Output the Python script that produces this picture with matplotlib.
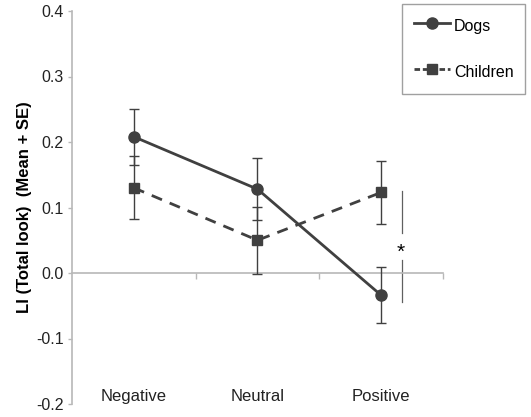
import matplotlib
matplotlib.use("Agg")
import matplotlib.pyplot as plt
from matplotlib.lines import Line2D

categories = ["Negative", "Neutral", "Positive"]
dogs = [0.208, 0.128, -0.034]
dogs_se = [0.043, 0.047, 0.043]
children = [0.130, 0.050, 0.123]
children_se = [0.048, 0.051, 0.048]
yticks = [-0.2, -0.1, 0.0, 0.1, 0.2, 0.3, 0.4]

plt.rcParams['font.family'] = ['Liberation Sans', 'DejaVu Sans']
fig = plt.figure(figsize=(5.31, 4.17), dpi=100)
ax = fig.add_axes([72/531, 1-404/417, (443-72)/531, (404-11)/417])

x = list(range(len(categories)))
dark = "#404040"
grey = "#b8b8b8"

ax.errorbar(x, dogs, yerr=dogs_se, fmt="none", ecolor=dark, elinewidth=1, capsize=3.5, capthick=1, zorder=3)
ax.errorbar(x, children, yerr=children_se, fmt="none", ecolor=dark, elinewidth=1, capsize=3.5, capthick=1, zorder=3)
ax.plot(x, dogs, color=dark, lw=2, marker="o", ms=8, zorder=4)
ax.plot(x, children, color=dark, lw=2, ls=(0, (4, 3)), marker="s", ms=7.5, zorder=4)

# significance marker
xs = 2.17
ax.plot([xs, xs], [0.061, 0.125], color="#606060", lw=0.9)
ax.plot([xs, xs], [-0.045, 0.020], color="#606060", lw=0.9)
ax.text(xs - 0.01, 0.032, "*", ha="center", va="center", fontsize=15, color="black")

ax.set_xlim(-0.5, 2.5)
ax.set_ylim(-0.2, 0.4)
ax.set_yticks(yticks)
ax.set_yticklabels([f"{v:.1f}" for v in yticks])
for s in ["top", "right"]:
    ax.spines[s].set_visible(False)
ax.spines["bottom"].set_position(("data", 0))
ax.spines["bottom"].set_color(grey)
ax.spines["bottom"].set_linewidth(1.2)
ax.spines["left"].set_color(grey)
ax.spines["left"].set_linewidth(1.2)
ax.set_xticks([0.5, 1.5, 2.5])
ax.set_xticklabels([])
ax.tick_params(axis="x", length=4, color=grey, width=1)
ax.tick_params(axis="y", length=3, color=grey, width=1, labelsize=11.5, labelcolor="#222222", pad=3)
for i, c in enumerate(categories):
    ax.text(i, -0.189, c, ha="center", va="center", fontsize=12, color="#222222")

ax.set_ylabel("LI (Total look)  (Mean + SE)", fontsize=12, fontweight="bold", labelpad=3)

handles = [Line2D([], [], color=dark, lw=2, marker="o", ms=8),
           Line2D([], [], color=dark, lw=2, ls=(0, (2, 1)), marker="s", ms=7.5)]
leg = fig.legend(handles, ["Dogs", "Children"], loc="upper left",
                 bbox_to_anchor=(402/531, 1-4/417), fontsize=11.5, frameon=True,
                 fancybox=False, edgecolor="#888888", handlelength=2.3, handleheight=1.6,
                 labelspacing=1.6, borderpad=0.72, handletextpad=0.25, borderaxespad=0)
leg.get_frame().set_linewidth(1)

fig.savefig("out.png", dpi=100)
